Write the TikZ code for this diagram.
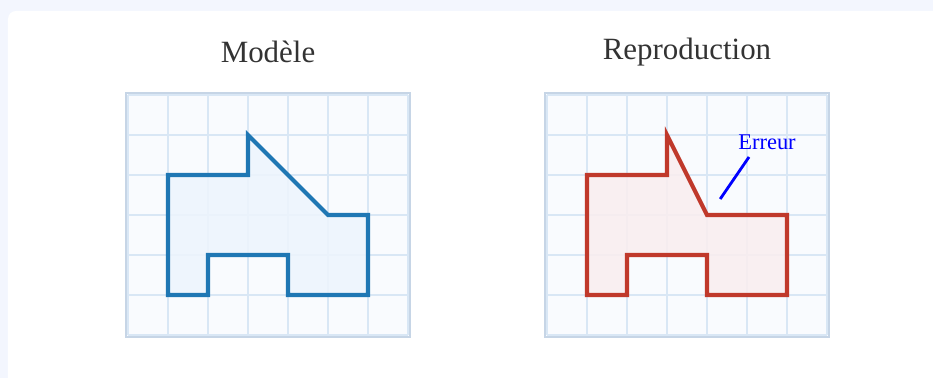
\documentclass[tikz,border=0pt]{standalone}
\usepackage{fontspec}
\setmainfont{Liberation Serif}
\usetikzlibrary{positioning}
\definecolor{fondpage}{HTML}{F3F6FE}
\definecolor{titre}{HTML}{333333}
\definecolor{fondgrille}{HTML}{F9FBFE}
\definecolor{bordgrille}{HTML}{C6D5E6}
\definecolor{lignegrille}{HTML}{D9E7F5}
\definecolor{bleumodele}{HTML}{1F77B4}
\definecolor{fondmodele}{HTML}{EDF4FD}
\definecolor{rougecopie}{HTML}{C0392B}
\definecolor{fondcopie}{HTML}{FAEDEF}
\definecolor{bleuerreur}{HTML}{0000FF}

\begin{document}
\begin{tikzpicture}[
    x=1cm, y=1cm,
    titre/.style={font=\fontsize{22}{26}\selectfont, text=titre},
    cadre/.style={
        draw=bordgrille,
        line width=1.3pt,
        fill=fondgrille
    },
    quadrillage/.style={
        draw=lignegrille,
        line width=0.9pt
    },
    modele/.style={
        draw=bleumodele,
        fill=fondmodele,
        fill opacity=0.85,
        line width=2.9pt,
        line join=miter
    },
    copie/.style={
        draw=rougecopie,
        fill=fondcopie,
        fill opacity=0.85,
        line width=2.9pt,
        line join=miter
    },
    remarque/.style={
        font=\fontsize{16}{19}\selectfont,
        text=bleuerreur,
        inner sep=1pt
    },
    trait/.style={
        draw=bleuerreur,
        line width=2pt
    }
]

% Fond et carte
\useasboundingbox (0,0) rectangle (23.325,9.45);
\fill[fondpage] (0,0) rectangle (23.325,9.45);
\fill[white, rounded corners=0.2cm] (0.2,-0.5) rectangle (23.8,9.175);

% Titres
\node[titre] (tmodele) at (6.7,8.15) {Modèle};
\node[titre] (tcopie) at (17.175,8.15) {Reproduction};

% Modele
\begin{scope}[shift={(3.2,1.075)}]
    \draw[cadre] (-0.05,-0.05) rectangle (7.05,6.05);
    \draw[quadrillage] (0,0) grid (7,6);
    \draw[modele] (1,1) -- (2,1) -- (2,2) -- (4,2) -- (4,1) -- (6,1) -- (6,3)
        -- (5,3) -- (3,5) -- (3,4) -- (1,4) -- cycle;
\end{scope}

% Reproduction
\begin{scope}[shift={(13.675,1.075)}]
    \draw[cadre] (-0.05,-0.05) rectangle (7.05,6.05);
    \draw[quadrillage] (0,0) grid (7,6);
    \draw[copie] (1,1) -- (2,1) -- (2,2) -- (4,2) -- (4,1) -- (6,1) -- (6,3)
        -- (4,3) -- (3,5) -- (3,4) -- (1,4) -- cycle;

    \node[remarque] (erreur) at (5.5,4.83) {Erreur};
    \coordinate (pointe) at (4.33,3.4);
    \coordinate (depart) at (5.05,4.45);
    \draw[trait] (pointe) -- (depart);
\end{scope}

\end{tikzpicture}
\end{document}
